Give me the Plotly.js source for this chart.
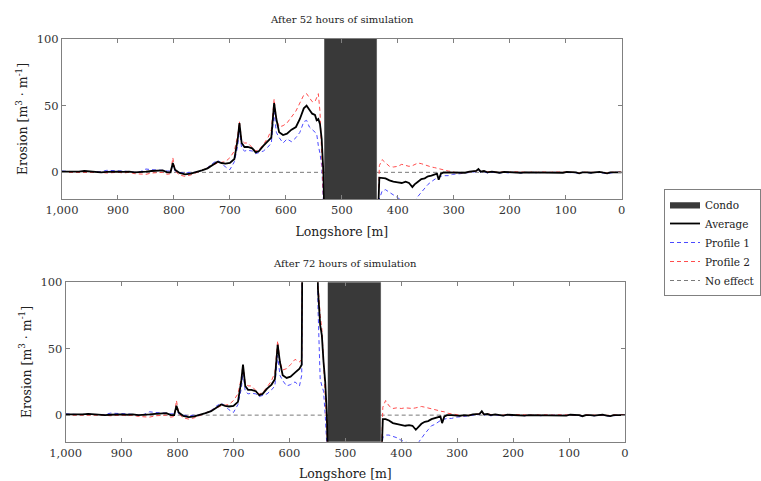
<!DOCTYPE html>
<html>
<head>
<meta charset="utf-8">
<script src="https://cdn.plot.ly/plotly-3.0.1.min.js"></script>
<style>html,body{margin:0;padding:0;background:#fff;}#chart{width:761px;height:481px;}</style>
</head>
<body>
<div id="chart"></div>
<script>
// ---- Data ----
const xTicks = [1000, 900, 800, 700, 600, 500, 400, 300, 200, 100, 0];
const xTickText = ['1,000', '900', '800', '700', '600', '500', '400', '300', '200', '100', '0'];
const yTicks = [0, 50, 100];
const panelTitles = ['After 52 hours of simulation', 'After 72 hours of simulation'];
const seriesNames = ['Condo', 'Average', 'Profile 1', 'Profile 2', 'No effect'];

const condoTop = [438, 531];
const condoBottom = [437, 531];
const noEffectX = [1000, 0];
const noEffectY = [0, 0];

// longshore positions, west of the condo (top panel)
const xLeftTop = [1000,990,980,970,960,950,940,930,920,910,900,890,880,870,860,850,840,830,820,
  812,806,802,798,790,780,770,760,750,740,730,
  722,715,708,700,692,686,683,679,674,668,
  660,654,648,640,632,626,621,617,612,605,
  598,590,582,575,568,563,558,553,548,545,
  542,539,536,533,531];
// longshore positions, west of the condo (bottom panel)
const xLeftBottom = [1000,990,980,970,960,950,940,930,920,910,900,890,880,870,860,850,840,830,820,
  812,806,802,798,790,780,770,760,750,740,730,
  722,715,708,700,692,686,683,679,674,668,
  660,654,648,640,632,626,621,617,612,605,
  598,590,582,578,576,552,549,545,542,539,536,533,531];
// longshore positions, east of the condo (both panels)
const xRight = [436,433,428,422,415,408,400,393,386,380,
  374,370,364,358,352,346,340,334,330,327,
  323,318,310,302,295,288,280,272,265,260,
  256,252,246,240,232,225,218,210,202,195,
  188,180,172,165,158,150,142,135,128,120,
  112,105,98,90,82,76,70,62,55,48,
  40,33,26,20,13,6,0];

// After 52 hours
const avgTopL = [0.5,0.5,0.3,0.5,1,0.5,0,0,0.3,0.5,0.5,0.3,0.5,0,0,0.5,1,1,1.5,
  0,0,7,2,-0.5,-1.5,-1,0,1.5,3,5.5,
  8,7,6.5,7,10,25,37,22,19,19,
  18,15,16,20,23,26,52,40,30,28,
  29,32,34,40,48,50,47,44,43,39,
  40,36,25,0,-40];
const p1TopL = [1,0.5,0.5,0.5,1,0.5,0.5,0.5,1.5,1.5,1,1,0.5,0,0.5,2.5,2,2,1.5,
  1,1,5,1,0,-0.5,0,0,1.5,3.5,7,
  9,7,4,2,8,20,32,18,16,16.5,
  16,14,15,16,19,22,45,30,26,22,
  25,23,26,30,38,39,34,32,30,29,
  20,14,5,-20,-40];
const p2TopL = [0,0,0,0.3,0.5,0,0,0,-0.5,-0.3,0,-0.5,0,-1,-1,-1.5,-0.5,-0.5,0,
  -1.5,-1,11,1,-2,-3,-2,-0.5,1.5,3.5,5.5,
  7,7.5,8,11,16,28,38,24,22,22,
  19,16,17,21,26,32,55,40,34,35,
  37,42,46,52,58,59,56,53,53,56,
  59,45,15,-10,-40];
const avgTopR = [-40,-4,-4,-4.5,-6,-7,-7.5,-8,-7,-8,
  -11,-9,-7,-5,-4.5,-3,-2.5,-1.5,-1,-5.5,
  -1,0,0,-0.5,-0.5,0,-0.3,0.5,0.5,1,
  2.5,0.5,1,0,0.5,0,-0.3,0.3,0,0.3,
  0,-0.3,0,0,0,-0.3,0,0,0,0,
  0,-0.3,0.3,0,0,-0.8,0,0,-0.3,0,
  0.3,-0.3,-0.8,0,0,0.3,0];
const p1TopR = [-40,-20,-14,-13,-15,-17,-19,-21,-22,-22,
  -24,-22,-18,-15,-12,-9,-7,-5,-4,-4,
  -3,-2.5,-2.5,-1.5,-1.5,-1,-0.5,0,0,0.5,
  2,0,0.5,-0.5,0,-0.5,-0.5,0,-0.5,0,
  -0.3,-0.5,0,-0.3,0,-0.5,0,-0.3,0,0,
  -0.3,-0.5,0,0,-0.3,-1,0,-0.3,-0.5,0,
  0,-0.5,-1,-0.3,0,0,0];
const p2TopR = [-40,5,9.5,7,4.5,4,4.5,6,5,4.5,
  5,6,7,6.5,5.5,5,4,3.5,3,3,
  2.5,1.5,1,0.5,-0.5,-0.5,0,0.5,0.5,1,
  2,0.5,1,0.5,0.5,0,0,0.5,0,0.5,
  0.3,0,0.3,0,0.3,0,0.3,0,0,0.3,
  0.3,0,0.5,0.3,0,-0.5,0.3,0,0,0.3,
  0.5,0,-0.5,0.3,0,0.5,0];

// After 72 hours
const avgBotL = [0.5,0.5,0.3,0.5,1,0.5,0,0,0.3,0.5,0.5,0.3,0.5,0,0,0.5,1,1,1.5,
  0,0,7,2,-0.5,-1.5,-1,0,1.5,3,5.5,
  8,7,6.5,7,10,26,38,22,19,19,
  18,15,16,20,23,27,53,40,30,28,
  29,32,35,38,200,200,95,68,60,40,25,0,-40];
const p1BotL = [1,0.5,0.5,0.5,1,0.5,0.5,0.5,1.5,1.5,1,1,0.5,0,0.5,2.5,2,2,1.5,
  1,1,5,1,0,-0.5,0,0,1.5,3.5,7,
  9,7,4,2,8,20,32,18,16,16.5,
  16,14,15,16,19,22,45,30,26,22,
  23,25,22,30,200,200,82,27,22,18,0,-30,-40];
const p2BotL = [0,0,0,0.3,0.5,0,0,0,-0.5,-0.3,0,-0.5,0,-1,-1,-1.5,-0.5,-0.5,0,
  -1.5,-1,11,1,-2,-3,-2,-0.5,1.5,3.5,5.5,
  7,7.5,8,11,16,28,38,24,22,22,
  19,16,17,21,26,32,56,40,34,35,
  38,42,40,42,200,200,100,75,65,40,20,-10,-40];
const avgBotR = [-40,-3,-3,-4,-6,-6.5,-7.5,-8,-7.5,-8,
  -11,-9,-6.5,-5,-4.5,-3,-2.5,-1.5,-1,-6,
  -1,0,0,-0.5,-0.5,0,-0.3,0.5,0.5,1,
  3,0.5,1,0,0.5,0,-0.3,0.3,0,0.3,
  0,-0.3,0,0,0,-0.3,0,0,0,0,
  0,-0.3,0.3,0,0,-0.8,0,0,-0.3,0,
  0.3,-0.3,-0.8,0,0,0.3,0];
const p1BotR = [-40,-17,-15,-15,-16,-17,-19,-20,-21,-22,
  -23,-21,-17,-14,-11,-8,-7,-5,-4,-4,
  -3,-2.5,-2.5,-1.5,-1.5,-1,-0.5,0,0,0.5,
  2,0,0.5,-0.5,0,-0.5,-0.5,0,-0.5,0,
  -0.3,-0.5,0,-0.3,0,-0.5,0,-0.3,0,0,
  -0.3,-0.5,0,0,-0.3,-1,0,-0.3,-0.5,0,
  0,-0.5,-1,-0.3,0,0,0];
const p2BotR = [-40,6,11,7,5,5.5,5,5.5,5,5,
  5.5,6,6.5,6,5.5,5,4,3.5,3,3,
  2.5,1.5,1,0.5,-0.5,-0.5,0,0.5,0.5,1,
  2,0.5,1,0.5,0.5,0,0,0.5,0,0.5,
  0.3,0,0.3,0,0.3,0,0.3,0,0,0.3,
  0.3,0,0.5,0.3,0,-0.5,0.3,0,0,0.3,
  0.5,0,-0.5,0.3,0,0.5,0];

// ---- Build figure ----
const FONT = "'DejaVu Serif', 'Liberation Serif', serif";
const YMIN = -20, YMAX = 100;
const W = 761, H = 481;

function panelTraces(xa, ya, condo, xL, avgL, p1L, p2L, avgR, p1R, p2R, show) {
  const x = xL.concat(xRight);
  return [
    {type:'scatter', mode:'lines', x: noEffectX, y: noEffectY, xaxis: xa, yaxis: ya,
     name: seriesNames[4], legendrank: 5, showlegend: show,
     line:{color:'#7a7a7a', width:1, dash:'4px,3px'}},
    {type:'scatter', mode:'lines', x:[condo[0], condo[0], condo[1], condo[1], condo[0]],
     y:[YMIN, YMAX, YMAX, YMIN, YMIN], xaxis: xa, yaxis: ya, fill:'toself',
     fillcolor:'#393939', line:{color:'#393939', width:0.5},
     name: seriesNames[0], legendrank: 1, showlegend: show},
    {type:'scatter', mode:'lines', x: x, y: p1L.concat(p1R), xaxis: xa, yaxis: ya,
     name: seriesNames[2], legendrank: 3, showlegend: show,
     line:{color:'#4a4aff', width:1, dash:'4px,3px'}},
    {type:'scatter', mode:'lines', x: x, y: p2L.concat(p2R), xaxis: xa, yaxis: ya,
     name: seriesNames[3], legendrank: 4, showlegend: show,
     line:{color:'#ff4d4d', width:1, dash:'4px,3px'}},
    {type:'scatter', mode:'lines', x: x, y: avgL.concat(avgR), xaxis: xa, yaxis: ya,
     name: seriesNames[1], legendrank: 2, showlegend: show,
     line:{color:'#000000', width:1.8}}
  ];
}

const data = [].concat(
  panelTraces('x', 'y', condoTop, xLeftTop, avgTopL, p1TopL, p2TopL, avgTopR, p1TopR, p2TopR, true),
  panelTraces('x2', 'y2', condoBottom, xLeftBottom, avgBotL, p1BotL, p2BotL, avgBotR, p1BotR, p2BotR, false)
);

function xAxis(domain, anchor) {
  return {domain: domain, anchor: anchor, range:[1000, 0], tickmode:'array',
    tickvals: xTicks, ticktext: xTickText, showline:true, mirror:'ticks',
    linecolor:'#808080', linewidth:1, ticks:'inside', ticklen:4, tickcolor:'#808080',
    showgrid:false, zeroline:false, tickfont:{family:FONT, size:11.5, color:'#333'},
    title:{text:'Longshore [m]', font:{family:FONT, size:12.5, color:'#222'}, standoff:11}};
}
function yAxis(domain, anchor) {
  return {domain: domain, anchor: anchor, range:[YMIN, YMAX], tickmode:'array',
    tickvals: yTicks, showline:true, mirror:'ticks',
    linecolor:'#808080', linewidth:1, ticks:'inside', ticklen:4, tickcolor:'#808080',
    showgrid:false, zeroline:false, tickfont:{family:FONT, size:11.5, color:'#333'},
    title:{text:'Erosion [m<sup>3</sup> · m<sup>-1</sup>]', font:{family:FONT, size:12.5, color:'#222'}, standoff:6}};
}

const topDom = [1 - 199/H, 1 - 39/H];
const botDom = [1 - 441.7/H, 1 - 282.3/H];
const topX = [62/W, 621.7/W];
const botX = [65.7/W, 625/W];

const layout = {
  width: W, height: H,
  margin:{l:0, r:0, t:0, b:0},
  paper_bgcolor:'#ffffff', plot_bgcolor:'#ffffff',
  font:{family:FONT, color:'#222'},
  xaxis: xAxis(topX, 'y'),
  yaxis: yAxis(topDom, 'x'),
  xaxis2: xAxis(botX, 'y2'),
  yaxis2: yAxis(botDom, 'x2'),
  showlegend: true,
  legend:{x: 664/W, y: 1 - 189/H, xanchor:'left', yanchor:'top',
    bgcolor:'#ffffff', bordercolor:'#808080', borderwidth:1,
    font:{family:FONT, size:10.5, color:'#222'}, tracegroupgap:0, itemwidth:30,
    traceorder:'normal'},
  annotations:[
    {text: panelTitles[0], xref:'paper', yref:'paper', x:(topX[0]+topX[1])/2, y:1 - 19/H,
     xanchor:'center', yanchor:'middle', showarrow:false, font:{family:FONT, size:10, color:'#222'}},
    {text: panelTitles[1], xref:'paper', yref:'paper', x:(botX[0]+botX[1])/2, y:1 - 263/H,
     xanchor:'center', yanchor:'middle', showarrow:false, font:{family:FONT, size:10, color:'#222'}}
  ]
};

Plotly.newPlot('chart', data, layout, {staticPlot:true, displayModeBar:false});
</script>
</body>
</html>
